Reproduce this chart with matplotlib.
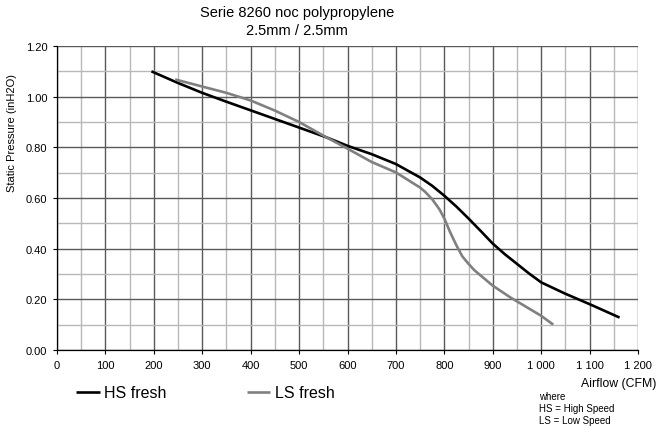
import matplotlib
matplotlib.use("Agg")
import matplotlib.pyplot as plt
from matplotlib.ticker import MultipleLocator

plt.rcParams['font.family'] = ['Liberation Sans', 'DejaVu Sans']

# Data
hs_x = [195, 250, 300, 350, 400, 450, 500, 557, 600, 650, 700, 750, 775, 800, 825, 850, 875, 900,
        925, 950, 975, 1000, 1050, 1100, 1162]
hs_y = [1.100, 1.054, 1.015, 0.980, 0.946, 0.912, 0.878, 0.839, 0.806, 0.773, 0.734, 0.681, 0.648,
        0.609, 0.566, 0.519, 0.470, 0.420, 0.378, 0.340, 0.302, 0.267, 0.222, 0.181, 0.128]

ls_x = [244, 300, 350, 400, 450, 500, 557, 600, 650, 700, 750, 760, 775, 790, 800, 812, 825, 837, 850,
        862, 875, 900, 936, 1000, 1025]
ls_y = [1.068, 1.040, 1.015, 0.985, 0.945, 0.900, 0.839, 0.795, 0.742, 0.701, 0.641, 0.625, 0.595, 0.555,
        0.519, 0.465, 0.413, 0.370, 0.340, 0.315, 0.294, 0.254, 0.208, 0.135, 0.100]

x_ticks = [0, 100, 200, 300, 400, 500, 600, 700, 800, 900, 1000, 1100, 1200]
x_tick_labels = ['0', '100', '200', '300', '400', '500', '600', '700', '800', '900', '1 000', '1 100', '1 200']
y_ticks = [0.0, 0.2, 0.4, 0.6, 0.8, 1.0, 1.2]
y_tick_labels = ['0.00', '0.20', '0.40', '0.60', '0.80', '1.00', '1.20']

W, H = 658, 431
fig = plt.figure(figsize=(W / 100, H / 100), dpi=100)
ax = fig.add_axes([57 / W, 1 - 351 / H, (638 - 57) / W, (351 - 47) / H])

ax.set_xlim(0, 1200)
ax.set_ylim(0, 1.2)
ax.xaxis.set_minor_locator(MultipleLocator(50))
ax.yaxis.set_minor_locator(MultipleLocator(0.1))
ax.grid(which='minor', color='#b8b8b8', linewidth=1.0)
ax.grid(which='major', color='#5a5a5a', linewidth=1.0)
ax.set_axisbelow(True)
ax.tick_params(which='minor', length=0)
ax.tick_params(which='major', length=3, width=0.8, labelsize=8, color='black', pad=4)
ax.set_xticks(x_ticks)
ax.set_xticklabels(x_tick_labels)
ax.set_yticks(y_ticks)
ax.set_yticklabels(y_tick_labels)
for s in ['top', 'right']:
    ax.spines[s].set_visible(False)
for s in ['left', 'bottom']:
    ax.spines[s].set_color('black')
    ax.spines[s].set_linewidth(0.9)

l1, = ax.plot(hs_x, hs_y, color='black', linewidth=1.9, solid_capstyle='butt', solid_joinstyle='round')
l2, = ax.plot(ls_x, ls_y, color='#808080', linewidth=1.9, solid_capstyle='butt', solid_joinstyle='round')

fig.text(297 / W, 1 - 22 / H, 'Serie 8260 noc polypropylene\n2.5mm / 2.5mm',
         ha='center', va='center', fontsize=10.5, linespacing=1.3)
fig.text(12 / W, 1 - 133 / H, 'Static Pressure (inH2O)', rotation=90,
         ha='center', va='center', fontsize=8)
fig.text(656 / W, 1 - 384 / H, 'Airflow (CFM)', ha='right', va='center', fontsize=8.8)
fig.text(539 / W, 1 - 409 / H, 'where\nHS = High Speed\nLS = Low Speed',
         ha='left', va='center', fontsize=7, linespacing=1.3)

leg = fig.legend([l1, l2], ['HS fresh', 'LS fresh'], loc='center left',
                 bbox_to_anchor=(62 / W, 1 - 394 / H), ncol=2, frameon=False,
                 fontsize=11.5, handlelength=1.45, handletextpad=0.3, columnspacing=5.0)

fig.savefig('out.png', dpi=100)
